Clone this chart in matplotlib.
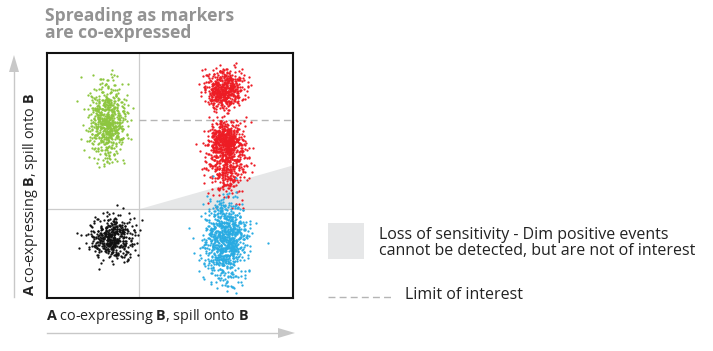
import numpy as np
import matplotlib.pyplot as plt
from matplotlib.patches import Polygon, Rectangle

plt.rcParams['font.family'] = ['Open Sans', 'DejaVu Sans']
plt.rcParams['mathtext.fontset'] = 'custom'
plt.rcParams['mathtext.rm'] = 'Open Sans'
plt.rcParams['mathtext.bf'] = 'Open Sans:bold'

# cluster parameters (axes units 0-100)
cluster_names = ['green', 'red_top', 'red_mid_core', 'red_mid_tail', 'blue', 'black']
cluster_colors = ['#8dc63f', '#ed1c24', '#ed1c24', '#ed1c24', '#29abe2', '#111111']
center_x = [25.0, 72.0, 72.4, 73.0, 72.6, 26.4]
center_y = [72.0, 85.0, 65.0, 56.0, 23.5, 24.8]
spread_x = [4.0, 3.6, 3.4, 4.2, 4.2, 4.4]
spread_y = [7.5, 4.0, 3.4, 7.0, 8.2, 4.4]
counts = [650, 520, 380, 480, 850, 430]

divider_x = 37.4
divider_y = 36.2
limit_y = 72.8
loss_top_y = 54.1

title = 'Spreading as markers\nare co-expressed'
axis_label = r'$\mathbf{A}$ co-expressing $\mathbf{B}$, spill onto $\mathbf{B}$'
legend_fill = 'Loss of sensitivity - Dim positive events\ncannot be detected, but are not of interest'
legend_dash = 'Limit of interest'

fig = plt.figure(figsize=(7.13, 3.51), dpi=100)
ax = fig.add_axes([47 / 713, 53 / 351, 246 / 713, 245 / 351])
ax.set_xlim(0, 100)
ax.set_ylim(0, 100)
ax.set_xticks([])
ax.set_yticks([])
for s in ax.spines.values():
    s.set_linewidth(1.5)
    s.set_color('#111111')

# quadrant dividers and region of lost sensitivity
ax.axvline(divider_x, color='#cccccc', lw=0.9, zorder=1)
ax.axhline(divider_y, color='#cccccc', lw=0.9, zorder=1)
ax.add_patch(Polygon([[divider_x, divider_y], [100, loss_top_y], [100, divider_y]],
                     closed=True, facecolor='#e6e7e8', edgecolor='none', zorder=0))
ax.plot([divider_x, 100], [limit_y, limit_y], color='#b5b5b5', lw=1, ls=(0, (5, 3)), zorder=1)

rng = np.random.default_rng(7)
for col, cx, cy, sx, sy, n in zip(cluster_colors, center_x, center_y, spread_x, spread_y, counts):
    xs = rng.normal(cx, sx, n)
    ys = rng.normal(cy, sy, n)
    ax.scatter(xs, ys, s=2.7, color=col, linewidths=0, zorder=2)

# title and axis labels
fig.text(45 / 713, 1 - 7 / 351, title, ha='left', va='top', fontsize=12.6,
         fontweight='bold', color='#939393', linespacing=0.95)
fig.text(46 / 713, 1 - 316 / 351, axis_label, ha='left', va='center', fontsize=10.4, color='#222222')
fig.text(31 / 713, 1 - 296 / 351, axis_label, ha='center', va='bottom', rotation=90,
         fontsize=10.4, color='#222222')

# grey arrows along the axes
fig.add_artist(plt.Line2D([14 / 713, 14 / 713], [1 - 297 / 351, 1 - 70 / 351], color='#c8c8c8', lw=1))
fig.add_artist(Polygon([[9 / 713, 1 - 72 / 351], [19 / 713, 1 - 72 / 351], [14 / 713, 1 - 55 / 351]],
                       closed=True, transform=fig.transFigure, facecolor='#c8c8c8', edgecolor='none'))
fig.add_artist(plt.Line2D([47 / 713, 280 / 713], [1 - 333 / 351, 1 - 333 / 351], color='#c8c8c8', lw=1))
fig.add_artist(Polygon([[278 / 713, 1 - 328 / 351], [278 / 713, 1 - 338 / 351], [295 / 713, 1 - 333 / 351]],
                       closed=True, transform=fig.transFigure, facecolor='#c8c8c8', edgecolor='none'))

# legend
fig.add_artist(Rectangle((328 / 713, 1 - 259 / 351), 36 / 713, 36 / 351,
                         transform=fig.transFigure, facecolor='#e6e7e8', edgecolor='none'))
fig.text(379 / 713, 1 - 243 / 351, legend_fill, ha='left', va='center', fontsize=11.5,
         color='#222222', linespacing=1.0)
fig.add_artist(plt.Line2D([328 / 713, 392 / 713], [1 - 297 / 351, 1 - 297 / 351],
                          color='#b5b5b5', lw=1, ls=(0, (5, 3))))
fig.text(405 / 713, 1 - 295 / 351, legend_dash, ha='left', va='center', fontsize=11.5, color='#222222')

fig.savefig('out.png', dpi=100)
